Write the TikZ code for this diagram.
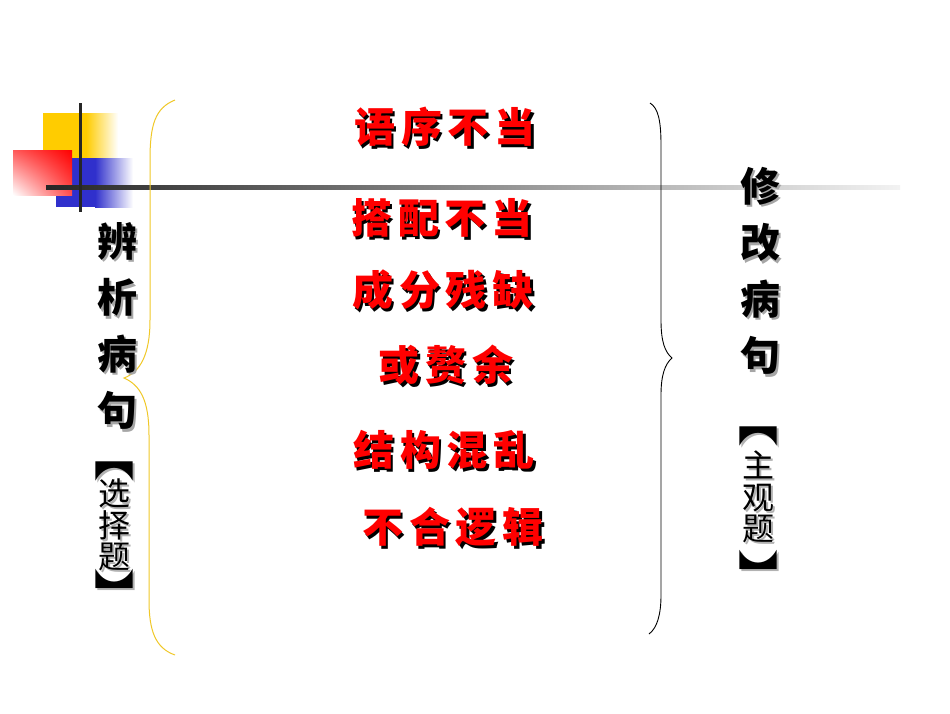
\documentclass[tikz,border=0pt]{standalone}
\usepackage{fontspec}
\usepackage{graphicx}
\setmainfont{Noto Sans CJK SC}
\usetikzlibrary{shadings}

\definecolor{oro}{RGB}{255,204,0}
\definecolor{azul}{RGB}{48,48,204}
\definecolor{llave}{RGB}{240,200,40}

\tikzset{
  rojo/.style={text=red, font=\fontsize{41}{41}\selectfont\bfseries\addfontfeatures{LetterSpace=14}},
  sombrarojo/.style={rojo, text=black, xshift=2.5pt, yshift=-2.5pt},
  negro/.style={text=black, align=center, font=\fontsize{40}{56.5}\selectfont\bfseries},
  sombranegro/.style={negro, text=black!35, xshift=2.5pt, yshift=-2.5pt},
  tipo/.style={text=black, align=center, font=\fontsize{32}{31.5}\selectfont},
  sombratipo/.style={tipo, text=black!30, xshift=2pt, yshift=-2pt},
  corchete/.style={text=black, inner sep=0pt, anchor=base, font=\fontsize{40}{40}\selectfont},
  sombracorchete/.style={corchete, text=black!30, xshift=2pt, yshift=-2pt}
}

\begin{document}
\begin{tikzpicture}[x=1pt, y=-1pt]
  \useasboundingbox (0,0) rectangle (950,713);
  \fill[white] (0,0) rectangle (950,713);

  % Cuadros
  \fill[oro] (43,113) rectangle (86,158);
  \shade[left color=oro, right color=white] (86,113) rectangle (118,158);
  \fill[azul] (56,158) rectangle (95,207);
  \shade[left color=azul, right color=white] (95,158) rectangle (133,207);
  \shade[upper left=red!65!white, upper right=red, lower left=white, lower right=red!70!white] (13,150) rectangle (72,195);

  % Lineas
  \shade[left color=black!85, right color=black!5] (46,185.5) rectangle (900,189);
  \fill[black!85] (78.5,103) rectangle (81.5,212);

  % Llaves
  \draw[llave, line width=1pt] (175,100) .. controls (155,108) and (150,125) .. (150,160)
    -- (150,320) .. controls (150,355) and (140,372) .. (124,378)
    .. controls (140,385) and (149,400) .. (149,435)
    -- (149,600) .. controls (149,630) and (155,648) .. (175,655);
  \draw[black, line width=0.9pt] (650,103) .. controls (658,108) and (661,120) .. (661,145)
    -- (661,320) .. controls (661,342) and (665,352) .. (672,358)
    .. controls (665,364) and (661,375) .. (661,395)
    -- (661,595) .. controls (661,615) and (657,628) .. (649,634);

  % Textos rojos
  \foreach \nombre/\x/\y/\texto in {yuxu/445/127/语序不当, dapei/442/218/搭配不当,
      chengfen/443/290/成分残缺, zhuiyu/446/365/或赘余, jiegou/444/450/结构混乱,
      buhe/453/527/不合逻辑}{
    \node[sombrarojo] (\nombre-s) at (\x,\y) {\texto};
    \node[rojo] (\nombre) at (\x,\y) {\texto};
  }

  % Columna izquierda
  \node[sombranegro] (bianxi-s) at (117,326) {辨\\析\\病\\句};
  \node[negro] (bianxi) at (117,326) {辨\\析\\病\\句};
  \node[sombracorchete] (xuanze-a-s) at (114,475) {\scalebox{1}[1.6]{︻}};
  \node[corchete] (xuanze-a) at (114,475) {\scalebox{1}[1.6]{︻}};
  \node[sombratipo] (xuanze-s) at (114,525) {选\\择\\题};
  \node[tipo] (xuanze) at (114,525) {选\\择\\题};
  \node[sombracorchete] (xuanze-b-s) at (114,623) {\scalebox{1}[1.6]{︼}};
  \node[corchete] (xuanze-b) at (114,623) {\scalebox{1}[1.6]{︼}};

  % Columna derecha
  \node[sombranegro] (xiugai-s) at (760,271) {修\\改\\病\\句};
  \node[negro] (xiugai) at (760,271) {修\\改\\病\\句};
  \node[sombracorchete] (zhuguan-a-s) at (758,440) {\scalebox{1}[1.6]{︻}};
  \node[corchete] (zhuguan-a) at (758,440) {\scalebox{1}[1.6]{︻}};
  \node[sombratipo] (zhuguan-s) at (758,497) {主\\观\\题};
  \node[tipo] (zhuguan) at (758,497) {主\\观\\题};
  \node[sombracorchete] (zhuguan-b-s) at (758,604) {\scalebox{1}[1.6]{︼}};
  \node[corchete] (zhuguan-b) at (758,604) {\scalebox{1}[1.6]{︼}};
\end{tikzpicture}
\end{document}
